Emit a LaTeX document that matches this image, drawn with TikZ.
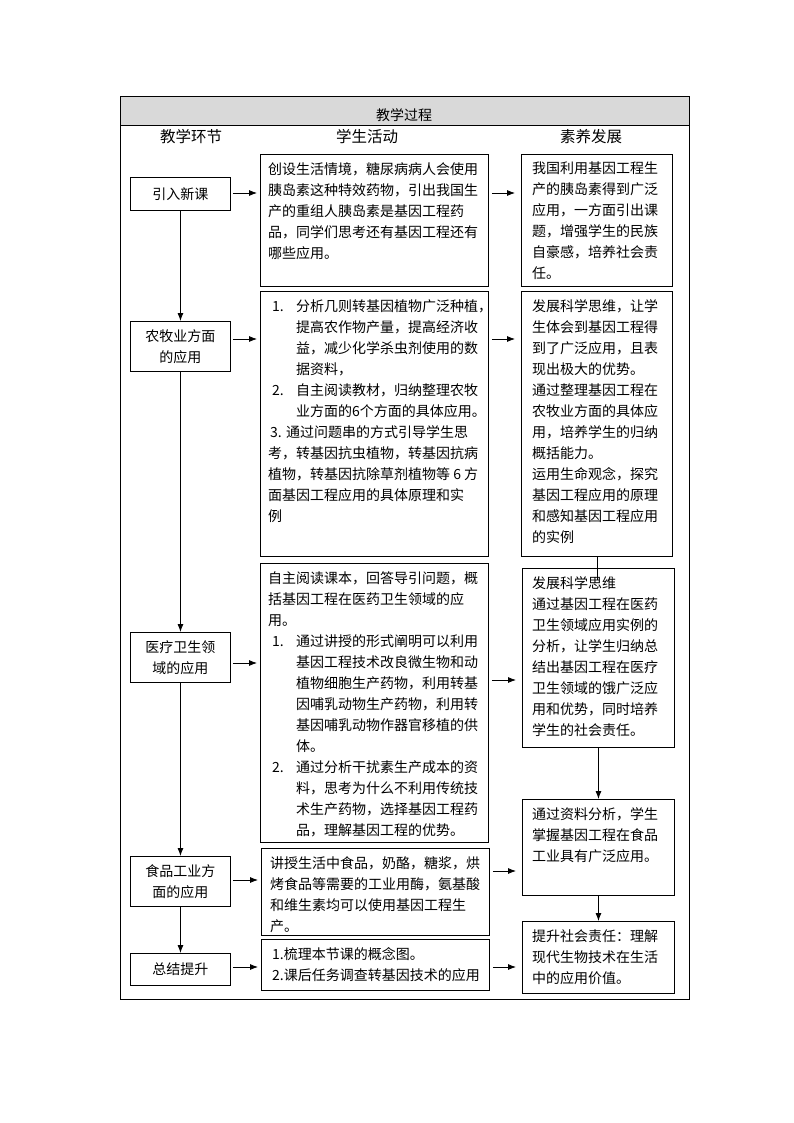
\documentclass[tikz,border=0pt]{standalone}
\usepackage{fontspec}
\setmainfont{Noto Sans CJK SC}
\usepackage{tikz}
\usetikzlibrary{positioning,calc,arrows.meta}
\newcommand\numitem[1]{\hspace*{4pt}\makebox[24pt][l]{#1}}
\newcommand\restline{\hspace*{28pt}}

\begin{document}
\begin{tikzpicture}[x=1pt,y=-1pt,
	stage/.style={draw,line width=0.9pt,anchor=north west,inner sep=0pt,minimum width=100pt,align=center,font=\fontsize{14}{21}\selectfont},
	box/.style={draw,line width=0.9pt,anchor=north west,inner sep=0pt},
	txt/.style={anchor=north west,align=left,inner sep=0pt,font=\fontsize{14}{21}\selectfont},
	colhead/.style={font=\fontsize{15.5}{16}\selectfont},
	arr/.style={-{Latex[length=8pt,width=6pt]},line width=0.8pt}]
	\fill[white] (0,0) rectangle (794,1123);
	\useasboundingbox (0,0) rectangle (794,1123);
	% frame and header
	\fill[black!15] (120,96) rectangle (689,125);
	\draw[line width=0.9pt] (120,96) rectangle (689,999);
	\draw[line width=0.9pt] (120,125) -- (689,125);
	\node[font=\fontsize{14}{14}\selectfont] (title) at (404,115) {教学过程};
	\node[colhead] (head1) at (191,137) {教学环节};
	\node[colhead] (head2) at (367,137) {学生活动};
	\node[colhead] (head3) at (591,137) {素养发展};
	% teaching stages
	\node[stage,minimum height=33pt] (h1) at (130,177) {引入新课};
	\node[stage,minimum height=50pt] (h2) at (130,321) {农牧业方面\\的应用};
	\node[stage,minimum height=50pt] (h3) at (130,632) {医疗卫生领\\域的应用};
	\node[stage,minimum height=50pt] (h4) at (130,856) {食品工业方\\面的应用};
	\node[stage,minimum height=32pt] (h5) at (130,953) {总结提升};
	% student activities
	\node[box,minimum width=228pt,minimum height=132pt] (a1) at (260,154) {};
	\node[txt] (a1t) at ([shift={(8,8)}]a1.north west) {创设生活情境，糖尿病病人会使用\\胰岛素这种特效药物，引出我国生\\产的重组人胰岛素是基因工程药\\品，同学们思考还有基因工程还有\\哪些应用。};
	\node[box,minimum width=228pt,minimum height=265pt] (a2) at (260,291) {};
	\node[txt] (a2t) at ([shift={(8,8)}]a2.north west) {\numitem{1.}分析几则转基因植物广泛种植，\\\restline 提高农作物产量，提高经济收\\\restline 益，减少化学杀虫剂使用的数\\\restline 据资料，\\\numitem{2.}自主阅读教材，归纳整理农牧\\\restline 业方面的6个方面的具体应用。\\\hspace*{2pt}3. 通过问题串的方式引导学生思\\考，转基因抗虫植物，转基因抗病\\植物，转基因抗除草剂植物等 6 方\\面基因工程应用的具体原理和实\\例};
	\node[box,minimum width=228pt,minimum height=279pt] (a3) at (260,563) {};
	\node[txt] (a3t) at ([shift={(8,8)}]a3.north west) {自主阅读课本，回答导引问题，概\\括基因工程在医药卫生领域的应\\用。\\\numitem{1.}通过讲授的形式阐明可以利用\\\restline 基因工程技术改良微生物和动\\\restline 植物细胞生产药物，利用转基\\\restline 因哺乳动物生产药物，利用转\\\restline 基因哺乳动物作器官移植的供\\\restline 体。\\\numitem{2.}通过分析干扰素生产成本的资\\\restline 料，思考为什么不利用传统技\\\restline 术生产药物，选择基因工程药\\\restline 品，理解基因工程的优势。};
	\node[box,minimum width=228pt,minimum height=87pt] (a4) at (261,848) {};
	\node[txt] (a4t) at ([shift={(9,8)}]a4.north west) {讲授生活中食品，奶酪，糖浆，烘\\烤食品等需要的工业用酶，氨基酸\\和维生素均可以使用基因工程生\\产。};
	\node[box,minimum width=228pt,minimum height=51pt] (a5) at (261,939) {};
	\node[txt] (a5t) at ([shift={(11,8)}]a5.north west) {1.梳理本节课的概念图。\\2.课后任务调查转基因技术的应用};
	% competence development
	\node[box,minimum width=151pt,minimum height=132pt] (s1) at (521,154) {};
	\node[txt] (s1t) at ([shift={(11,8)}]s1.north west) {我国利用基因工程生\\产的胰岛素得到广泛\\应用，一方面引出课\\题，增强学生的民族\\自豪感，培养社会责\\任。};
	\node[box,minimum width=151pt,minimum height=265pt] (s2) at (521,291) {};
	\node[txt] (s2t) at ([shift={(11,8)}]s2.north west) {发展科学思维，让学\\生体会到基因工程得\\到了广泛应用，且表\\现出极大的优势。\\通过整理基因工程在\\农牧业方面的具体应\\用，培养学生的归纳\\概括能力。\\运用生命观念，探究\\基因工程应用的原理\\和感知基因工程应用\\的实例};
	\node[box,minimum width=152pt,minimum height=179pt] (s3) at (522,568) {};
	\node[txt] (s3t) at ([shift={(10,8)}]s3.north west) {发展科学思维\\通过基因工程在医药\\卫生领域应用实例的\\分析，让学生归纳总\\结出基因工程在医疗\\卫生领域的饿广泛应\\用和优势，同时培养\\学生的社会责任。};
	\node[box,minimum width=152pt,minimum height=96pt] (s4) at (522,799) {};
	\node[txt] (s4t) at ([shift={(10,8)}]s4.north west) {通过资料分析，学生\\掌握基因工程在食品\\工业具有广泛应用。};
	\node[box,minimum width=152pt,minimum height=72pt] (s5) at (522,921) {};
	\node[txt] (s5t) at ([shift={(10,8)}]s5.north west) {提升社会责任：理解\\现代生物技术在生活\\中的应用价值。};
	% rows of the arrows
	\coordinate (row1) at (0,193);
	\coordinate (row2) at (0,339);
	\coordinate (row3) at (0,663);
	\coordinate (row3b) at (0,680);
	\coordinate (row4) at (0,880);
	\coordinate (row4b) at (0,871);
	\coordinate (row5) at (0,967);
	% stage to activity
	\draw[arr,shorten <=2pt,shorten >=3pt] (h1.east |- row1) -- (a1.west |- row1);
	\draw[arr,shorten <=2pt,shorten >=3pt] (h2.east |- row2) -- (a2.west |- row2);
	\draw[arr,shorten <=2pt,shorten >=3pt] (h3.east |- row3) -- (a3.west |- row3);
	\draw[arr,shorten <=2pt,shorten >=3pt] (h4.east |- row4) -- (a4.west |- row4);
	\draw[arr,shorten <=2pt,shorten >=3pt] (h5.east |- row5) -- (a5.west |- row5);
	% activity to competence
	\draw[arr,shorten <=3pt,shorten >=6pt] (a1.east |- row1) -- (s1.west |- row1);
	\draw[arr,shorten <=3pt,shorten >=6pt] (a2.east |- row2) -- (s2.west |- row2);
	\draw[arr,shorten <=3pt,shorten >=6pt] (a3.east |- row3b) -- (s3.west |- row3b);
	\draw[arr,shorten <=3pt,shorten >=6pt] (a4.east |- row4b) -- (s4.west |- row4b);
	\draw[arr,shorten <=3pt,shorten >=6pt] (a5.east |- row5) -- (s5.west |- row5);
	% down the stages
	\draw[arr] (h1.south) -- (h2.north);
	\draw[arr] (h2.south) -- (h3.north);
	\draw[arr] (h3.south) -- (h4.north);
	\draw[arr] (h4.south) -- (h5.north);
	% down the competences
	\coordinate (s3in) at (596,580);
	\draw[line width=0.8pt] (s2.south) -- (s2.south |- s3in);
	\draw[arr] (s3.south) -- (s4.north);
	\draw[arr] (s4.south) -- (s5.north);
\end{tikzpicture}
\end{document}
